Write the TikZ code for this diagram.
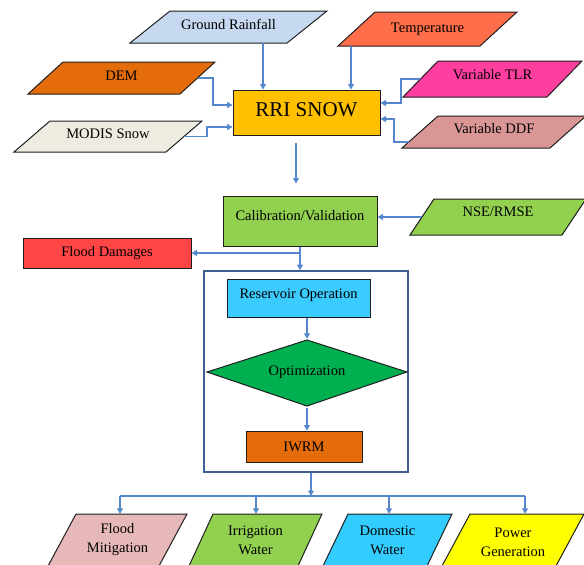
\documentclass[tikz,border=0pt]{standalone}
\usepackage{fontspec}
\setmainfont{Liberation Serif}
\usetikzlibrary{arrows.meta,calc}
\definecolor{arrowc}{RGB}{84,135,204}
\definecolor{boxc}{RGB}{62,96,145}
\definecolor{edgec}{RGB}{30,30,30}
\definecolor{cGR}{HTML}{C6D9F1}
\definecolor{cTemp}{HTML}{FF6E4A}
\definecolor{cDEM}{HTML}{E46C0A}
\definecolor{cTLR}{HTML}{FF3FA0}
\definecolor{cRRI}{HTML}{FFC000}
\definecolor{cMOD}{HTML}{EEECE1}
\definecolor{cDDF}{HTML}{D99694}
\definecolor{cGreen}{HTML}{92D050}
\definecolor{cFD}{HTML}{FF4545}
\definecolor{cRes}{HTML}{3CCBFF}
\definecolor{cOpt}{HTML}{00B050}
\definecolor{cFM}{HTML}{E6B9B8}
\definecolor{cDW}{HTML}{33CCFF}
\definecolor{cPG}{HTML}{FFFF00}
\tikzset{
  txt/.style={font=\fontsize{14.5}{19}\selectfont, align=center, inner sep=0pt},
  raised/.style={text height=10pt, text depth=#1},
  pbox/.style={draw=edgec, line width=1pt},
  rbox/.style={draw=edgec, line width=1pt, txt},
  arr/.style={draw=arrowc, line width=1.1pt, -{Triangle[width=6pt,length=5.5pt]}},
  plain/.style={draw=arrowc, line width=1.1pt},
}
% #1 name, #2 colour, #3 top-left x, #4 top-right x, #5 top y, #6 bottom-left x, #7 bottom y, #8 text, #9 extra text options
\newcommand\pgram[9]{%
  \filldraw[pbox, fill=#2] (#3,#5) -- (#4,#5) -- ({#6+#4-#3},#7) -- (#6,#7) -- cycle;
  \node[txt, minimum width={(#4-#3)*1pt}, minimum height={(#7-#5)*1pt}, #9] (#1) at ({(#4+#6)/2},{(#5+#7)/2}) {#8};
}
\begin{document}
\begin{tikzpicture}[x=1pt,y=-1pt]
\useasboundingbox (0,0) rectangle (584,565);
\clip (0,0) rectangle (584,565);
% inputs
\pgram{gr}{cGR}{170}{327}{11}{130}{43}{Ground Rainfall}{raised=6pt}
\pgram{temp}{cTemp}{375}{517}{12}{338}{46}{Temperature}{raised=3pt}
\pgram{dem}{cDEM}{63}{215}{62}{28}{94}{DEM}{raised=6pt}
\pgram{tlr}{cTLR}{438}{582}{61}{403}{97}{Variable TLR}{raised=10pt}
\pgram{modis}{cMOD}{50}{202}{121}{14}{152}{MODIS Snow}{raised=7pt}
\pgram{ddf}{cDDF}{438}{586}{116}{402}{148}{Variable DDF}{raised=8pt}
\pgram{nse}{cGreen}{434}{586}{199}{410}{235}{NSE/RMSE}{raised=12pt}
% main boxes
\node[rbox, fill=cRRI, minimum width=147pt, minimum height=45pt, font=\fontsize{21}{24}\selectfont, text height=14pt, text depth=7pt] (rri) at (306.5,112.5) {RRI SNOW};
\node[rbox, fill=cGreen, minimum width=154pt, minimum height=50pt, raised=12pt] (cal) at (300,221) {Calibration/Validation};
\node[rbox, fill=cFD, minimum width=168pt, minimum height=30pt] (fd) at (107,253) {Flood Damages};
\node[draw=boxc, line width=1.6pt, minimum width=204pt, minimum height=201pt, inner sep=0pt] (box) at (306,371.5) {};
\node[rbox, fill=cRes, minimum width=143pt, minimum height=38pt, raised=10pt] (res) at (298.5,298) {Reservoir Operation};
\filldraw[pbox, fill=cOpt] (207,372) -- (307,340) -- (407,372) -- (307,406) -- cycle;
\node[txt, minimum width=200pt, minimum height=66pt] (opt) at (307,372) {Optimization};
\node[rbox, fill=cDEM, minimum width=116pt, minimum height=31pt] (iwrm) at (304,446.5) {IWRM};
% outputs
\pgram{fm}{cFM}{76}{187}{514}{48}{566}{Flood\\Mitigation}{}
\pgram{iw}{cGreen}{213}{322}{514}{189}{566}{Irrigation\\Water}{}
\pgram{dw}{cDW}{348}{452}{514}{323}{566}{Domestic\\Water}{}
\pgram{pg}{cPG}{470}{584}{514}{442}{566}{Power\\Generation}{yshift=-2pt}
% connectors into RRI SNOW
\coordinate (xg) at (263,0);
\coordinate (xt) at (351,0);
\draw[arr] (gr.south -| xg) -- (rri.north -| xg);
\draw[arr] (temp.south -| xt) -- (rri.north -| xt);
\coordinate (b1) at (213,105);
\draw[arr] (dem.east) -| (b1) -- (b1 -| rri.west);
\coordinate (b2) at (207,127);
\draw[arr] (modis.east) -| (b2) -- (b2 -| rri.west);
\coordinate (b3) at (401,103);
\draw[arr] (tlr.west) -| (b3) -- (b3 -| rri.east);
\coordinate (d0) at ($(ddf.west)+(-11,10)$);
\coordinate (b4) at (394,119);
\draw[arr] (d0) -| (b4) -- (b4 -| rri.east);
% RRI to calibration
\coordinate (xr) at (296,0);
\draw[arr, shorten <=7pt, shorten >=12pt] (rri.south -| xr) -- (cal.north -| xr);
\draw[arr] (nse.west) -- (nse.west -| cal.east);
\draw[arr] (cal.south) |- (fd.east);
\draw[arr] (cal.south) -- (cal.south |- box.north);
% inside the box
\draw[arr] (opt.north |- res.south) -- (opt.north);
\draw[arr, shorten <=3pt] (opt.south) -- (opt.south |- iwrm.north);
% box to outputs
\coordinate (h) at (311,496);
\draw[arr] (box.south -| h) -- (h);
\coordinate (f1) at (120,496);
\coordinate (f2) at (256,496);
\coordinate (f3) at (389,496);
\coordinate (f4) at (525,496);
\draw[plain] (f1) -- (f4);
\draw[arr] (f1) -- (f1 |- fm.north);
\draw[arr] (f2) -- (f2 |- iw.north);
\draw[arr] (f3) -- (f3 |- dw.north);
\draw[arr] (f4) -- (f4 |- dw.north);
\end{tikzpicture}
\end{document}
